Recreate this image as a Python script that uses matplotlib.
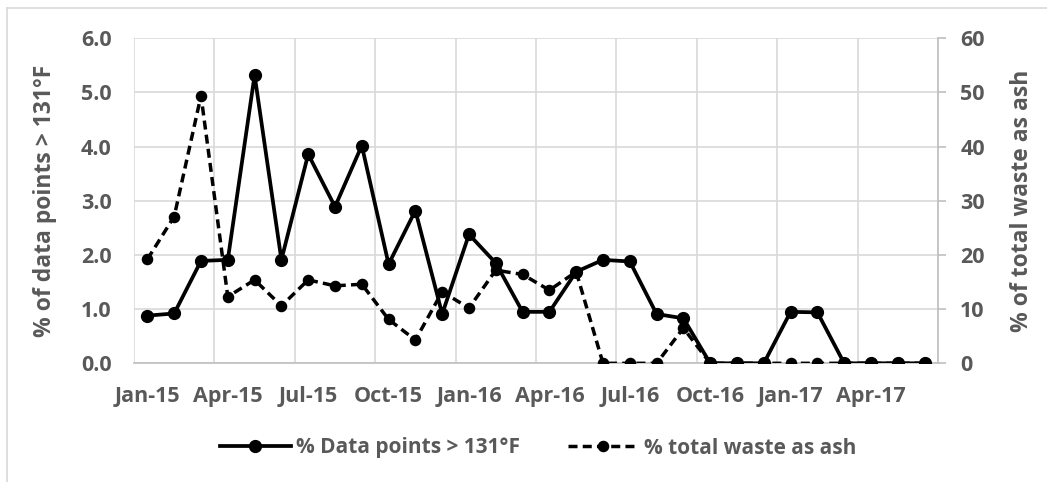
import numpy as np
import matplotlib.pyplot as plt
from matplotlib.lines import Line2D

plt.rcParams['font.family'] = ['Open Sans', 'DejaVu Sans']

# monthly data, Jan-15 .. Jun-17
months = ['Jan-15', 'Feb-15', 'Mar-15', 'Apr-15', 'May-15', 'Jun-15',
          'Jul-15', 'Aug-15', 'Sep-15', 'Oct-15', 'Nov-15', 'Dec-15',
          'Jan-16', 'Feb-16', 'Mar-16', 'Apr-16', 'May-16', 'Jun-16',
          'Jul-16', 'Aug-16', 'Sep-16', 'Oct-16', 'Nov-16', 'Dec-16',
          'Jan-17', 'Feb-17', 'Mar-17', 'Apr-17', 'May-17', 'Jun-17']
pct_hot = [0.88, 0.92, 1.89, 1.91, 5.32, 1.91, 3.86, 2.89, 4.02, 1.83,
           2.82, 0.91, 2.38, 1.85, 0.95, 0.95, 1.69, 1.91, 1.88, 0.91,
           0.83, 0, 0, 0, 0.95, 0.94, 0, 0, 0, 0]
pct_ash = [19.2, 27.1, 49.4, 12.3, 15.4, 10.6, 15.4, 14.3, 14.6, 8.1,
           4.3, 13.2, 10.2, 17.2, 16.4, 13.5, 16.9, 0, 0, 0,
           6.5, 0, 0, 0, 0, 0, 0, 0, 0, 0]

txt = '#595959'
grid = '#d9d9d9'
x = np.arange(len(months))

fig = plt.figure(figsize=(10.47, 4.82), dpi=100)
ax = fig.add_axes([134 / 1047, 1 - 363.3 / 482, 804 / 1047, 325 / 482])
ax2 = ax.twinx()

solid_style = dict(color='black', lw=2.7, marker='o', ms=8.5)
dash_style = dict(color='black', lw=2.5, marker='o', ms=7.3, dashes=(2.6, 1.5))
ax.plot(x, pct_hot, zorder=3, **solid_style)
ax2.plot(x, pct_ash, zorder=3, **dash_style)

ax.set_xlim(-0.5, len(months) - 0.5)
ax.set_ylim(0, 6)
ax2.set_ylim(0, 60)
ax.set_yticks(np.arange(0, 6.1, 1))
ax.set_yticklabels(['%.1f' % v for v in np.arange(0, 6.1, 1)])
ax2.set_yticks(np.arange(0, 61, 10))

ax.set_xticks(x[::3])
ax.set_xticklabels(months[::3])
ax.set_xticks(np.arange(-0.5, len(months), 3), minor=True)
ax.grid(True, which='minor', axis='x', color=grid, lw=1.2)
ax.grid(True, which='major', axis='y', color=grid, lw=1.2)
ax.set_axisbelow(True)

fs = 15.5
ax.tick_params(axis='x', which='both', length=0, pad=16, labelsize=fs,
               labelcolor=txt)
ax.tick_params(axis='y', length=0, pad=16, labelsize=fs, labelcolor=txt)
ax2.tick_params(axis='y', length=6, width=1.2, color='#bfbfbf', pad=10,
                labelsize=fs, labelcolor=txt)
for lab in ax.get_xticklabels() + ax.get_yticklabels() + ax2.get_yticklabels():
    lab.set_fontweight('bold')

for s in ['top', 'left', 'right']:
    ax.spines[s].set_visible(False)
for s in ['top', 'left', 'bottom']:
    ax2.spines[s].set_visible(False)
ax.spines['bottom'].set_color('#bfbfbf')
ax.spines['bottom'].set_linewidth(1.2)
ax2.spines['right'].set_color('#bfbfbf')
ax2.spines['right'].set_linewidth(1.2)

ax.set_ylabel('% of data points > 131°F', fontsize=16.5, fontweight='bold',
              color=txt)
ax.yaxis.set_label_coords(-0.096, 0.5)
ax2.set_ylabel('% of total waste as ash', fontsize=16.5, fontweight='bold',
               color=txt, rotation=90)
ax2.yaxis.set_label_coords(1.09, 0.5)

h1 = Line2D([], [], **solid_style)
h2 = Line2D([], [], **dash_style)
leg = fig.legend([h1, h2], ['% Data points > 131°F', '% total waste as ash'],
                 loc='center', bbox_to_anchor=(538 / 1047, 1 - 448 / 482),
                 ncol=2, frameon=False, handlelength=3.4, handletextpad=0.25,
                 columnspacing=2.3, prop={'size': 15, 'weight': 'bold'})
for t in leg.get_texts():
    t.set_color(txt)

# outer chart border (right and bottom edges fall outside the image)
fig.add_artist(Line2D([7 / 1047, 7 / 1047], [-0.1, 1 - 8 / 482],
                      transform=fig.transFigure, color=grid, lw=1.2))
fig.add_artist(Line2D([7 / 1047, 1.1], [1 - 8 / 482, 1 - 8 / 482],
                      transform=fig.transFigure, color=grid, lw=1.2))

fig.savefig('out.png', dpi=100)
